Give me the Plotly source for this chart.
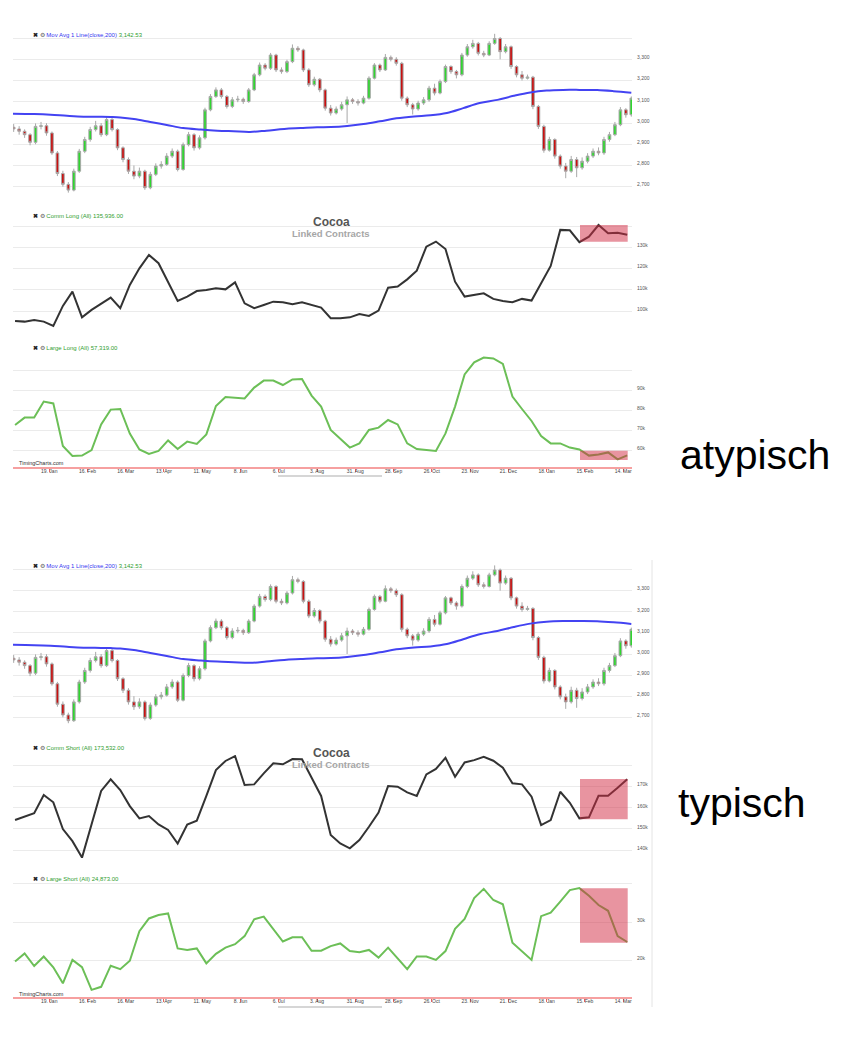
import pandas as pd
from plotly import graph_objects

# the page body keeps an 8px margin, so the figure is drawn 8px in from the corner
PAD = 8
FW, FH = 850 - 2 * PAD, 1056 - 2 * PAD

# weekly commitment-of-traders figures, thousands of contracts
cot_dates = pd.date_range("2014-12-25", periods=65, freq="7D")
comm_long = [95.3, 95.0, 95.8, 95.0, 93.0, 102.4, 109.1, 97.0, 100.5, 103.6,
             106.3, 101.3, 112.3, 120.1, 126.4, 122.5, 113.8, 104.7, 106.8, 109.4,
             109.9, 110.7, 110.2, 113.5, 103.6, 101.3, 102.8, 104.4, 104.1, 103.2,
             104.1, 102.8, 101.6, 96.6, 96.6, 97.0, 98.6, 97.7, 100.2, 111.0,
             111.5, 114.9, 119.0, 130.3, 132.7, 129.2, 113.8, 106.8, 107.6, 108.3,
             105.7, 104.7, 104.1, 105.7, 104.9, 113.0, 121.2, 138.2, 138.0, 132.4,
             135.0, 140.5, 136.6, 136.8, 135.936]
large_long = [72.5, 76.2, 76.2, 84.2, 83.3, 62.0, 57.0, 57.2, 60.0, 72.8,
              80.2, 80.5, 68.2, 60.3, 58.0, 59.5, 64.8, 60.5, 64.2, 63.0,
              67.8, 82.0, 86.5, 86.2, 85.8, 91.2, 94.7, 94.7, 92.5, 95.3,
              95.5, 87.2, 81.7, 70.0, 65.5, 61.2, 63.3, 70.0, 71.2, 75.0,
              72.8, 63.3, 60.5, 60.0, 59.5, 68.3, 81.7, 97.8, 103.8, 106.2,
              105.8, 103.0, 86.7, 80.5, 74.5, 67.0, 63.3, 63.3, 61.2, 60.3,
              57.2, 57.8, 58.8, 55.3, 57.319]
comm_short = [154.2, 155.8, 157.4, 166.1, 162.6, 149.9, 144.2, 136.4, 151.8, 168.0,
              173.5, 168.4, 160.8, 155.0, 156.1, 152.1, 149.5, 143.1, 152.1, 153.9,
              165.6, 177.9, 182.2, 184.5, 170.8, 171.1, 176.3, 181.1, 180.6, 183.1,
              183.0, 173.9, 165.6, 147.1, 143.1, 140.8, 144.7, 151.0, 157.7, 170.3,
              170.0, 167.3, 165.6, 175.8, 178.4, 183.7, 174.7, 181.5, 182.6, 184.2,
              182.3, 179.0, 171.6, 171.1, 165.3, 151.8, 154.2, 167.6, 162.4, 155.0,
              155.5, 165.7, 165.7, 169.5, 173.532]
large_short = [19.8, 21.9, 18.6, 21.1, 18.3, 14.1, 20.2, 18.3, 12.4, 13.2,
               18.7, 17.8, 20.0, 27.7, 31.0, 31.9, 32.3, 23.2, 22.8, 23.2,
               19.3, 21.8, 23.4, 24.3, 26.4, 30.8, 31.5, 28.2, 25.0, 26.1,
               26.1, 22.6, 22.6, 23.8, 24.5, 22.5, 22.2, 22.8, 20.8, 23.4,
               20.6, 17.8, 21.1, 21.1, 20.2, 22.5, 28.3, 30.9, 36.3, 38.7,
               35.8, 34.7, 24.7, 22.5, 20.2, 31.6, 32.5, 35.4, 38.4, 38.9,
               36.9, 34.5, 33.0, 26.4, 24.873]

# cocoa price candles, one every 4 days
price_dates = pd.date_range("2014-12-24", periods=114, freq="4D")
first_open = 2980
price_close = [2972, 2961, 2945, 2909, 2984, 2987, 2953, 2859, 2762, 2711,
               2684, 2773, 2867, 2922, 2969, 2987, 2945, 3016, 2969, 2883,
               2828, 2773, 2750, 2773, 2695, 2758, 2797, 2805, 2844, 2867,
               2781, 2898, 2945, 2883, 2930, 3062, 3125, 3156, 3125, 3078,
               3109, 3112, 3101, 3156, 3227, 3273, 3258, 3320, 3250, 3242,
               3289, 3352, 3344, 3250, 3180, 3206, 3156, 3070, 3047, 3066,
               3086, 3109, 3101, 3094, 3117, 3211, 3273, 3250, 3309, 3300,
               3281, 3117, 3086, 3066, 3094, 3109, 3164, 3141, 3195, 3266,
               3242, 3227, 3320, 3359, 3375, 3328, 3320, 3375, 3398, 3336,
               3359, 3266, 3227, 3211, 3216, 3078, 2984, 2872, 2922, 2844,
               2797, 2773, 2828, 2789, 2820, 2844, 2867, 2859, 2922, 2945,
               2992, 3062, 3039, 3117]
price_high = [2995, 2985, 2970, 2952, 2998, 3005, 2999, 2960, 2868, 2775,
              2722, 2785, 2878, 2935, 2982, 3010, 3000, 3028, 3025, 2975,
              2890, 2838, 2800, 2790, 2780, 2770, 2810, 2820, 2858, 2880,
              2875, 2908, 2958, 2952, 2942, 3072, 3136, 3168, 3165, 3132,
              3122, 3128, 3120, 3165, 3236, 3285, 3282, 3330, 3326, 3262,
              3298, 3370, 3362, 3350, 3258, 3218, 3212, 3162, 3085, 3078,
              3100, 3125, 3118, 3112, 3128, 3220, 3282, 3280, 3325, 3318,
              3310, 3288, 3125, 3095, 3105, 3122, 3175, 3185, 3205, 3275,
              3272, 3250, 3330, 3372, 3392, 3382, 3340, 3385, 3420, 3405,
              3372, 3365, 3272, 3245, 3228, 3222, 3085, 2992, 2935, 2928,
              2852, 2812, 2845, 2840, 2838, 2858, 2880, 2885, 2935, 2958,
              3005, 3075, 3070, 3125]
price_low = [2958, 2945, 2930, 2895, 2900, 2970, 2940, 2850, 2750, 2700,
             2672, 2678, 2765, 2858, 2912, 2960, 2935, 2938, 2960, 2872,
             2815, 2760, 2735, 2740, 2685, 2688, 2750, 2785, 2798, 2835,
             2772, 2775, 2890, 2870, 2875, 2922, 3055, 3118, 3115, 3068,
             3070, 3098, 3090, 3095, 3150, 3220, 3248, 3250, 3240, 3232,
             3235, 3282, 3335, 3240, 3170, 3172, 3145, 3058, 3035, 3040,
             3058, 3000, 3090, 3082, 3088, 3110, 3205, 3240, 3245, 3290,
             3270, 3105, 3075, 3040, 3058, 3085, 3100, 3130, 3135, 3188,
             3232, 3210, 3220, 3312, 3350, 3318, 3310, 3315, 3368, 3300,
             3328, 3255, 3215, 3200, 3205, 3065, 2972, 2860, 2865, 2832,
             2785, 2740, 2765, 2745, 2780, 2810, 2835, 2848, 2850, 2912,
             2938, 2985, 3025, 3030]

# 200 day moving average
ma_dates = ["2014-12-23", "2015-01-08", "2015-01-20", "2015-02-01", "2015-02-13",
            "2015-02-26", "2015-03-05", "2015-03-12", "2015-03-22", "2015-04-03",
            "2015-04-15", "2015-04-27", "2015-05-10", "2015-05-22", "2015-06-03",
            "2015-06-15", "2015-06-27", "2015-07-10", "2015-07-22", "2015-08-03",
            "2015-08-13", "2015-08-25", "2015-09-06", "2015-09-18", "2015-09-30",
            "2015-10-13", "2015-10-25", "2015-11-06", "2015-11-18", "2015-11-30",
            "2015-12-13", "2015-12-25", "2016-01-06", "2016-01-18", "2016-01-30",
            "2016-02-11", "2016-02-24", "2016-03-07", "2016-03-20"]
ma_values = [3044, 3042, 3039, 3034, 3030, 3029, 3028, 3026, 3019, 3005,
             2991, 2976, 2969, 2964, 2961, 2958, 2964, 2972, 2976, 2980,
             2981, 2986, 2995, 3008, 3022, 3031, 3036, 3047, 3070, 3094,
             3109, 3128, 3144, 3153, 3156, 3156, 3155, 3150, 3142.53]

tick_dates = ["2015-01-19", "2015-02-16", "2015-03-16", "2015-04-13", "2015-05-11",
              "2015-06-08", "2015-07-06", "2015-08-03", "2015-08-31", "2015-09-28",
              "2015-10-26", "2015-11-23", "2015-12-21", "2016-01-18", "2016-02-15",
              "2016-03-14"]
tick_labels = ["19. Jan", "16. Feb", "16. Mar", "13. Apr", "11. May", "8. Jun", "6. Jul",
               "3. Aug", "31. Aug", "28. Sep", "26. Oct", "23. Nov", "21. Dec", "18. Jan",
               "15. Feb", "14. Mar"]
price_ticks = [2700, 2800, 2900, 3000, 3100, 3200, 3300, 3400]
price_tick_labels = ["2,700", "2,800", "2,900", "3,000", "3,100", "3,200", "3,300", ""]

GREEN = "#6cbf57"
DARK = "#333333"
FONT = "Liberation Sans, Arial, sans-serif"


def px(p):
    return (p - PAD) / FW


def py(p):
    return 1 - (p - PAD) / FH


def y_axis(top, bottom, v1, p1, v2, p2, vals, labels, anchor):
    # place value v1 at pixel row p1 and v2 at p2, panel spans top..bottom
    scale = (p2 - p1) / (v1 - v2)
    rng = [v2 - (bottom - p2) / scale, v1 + (p1 - top) / scale]
    return dict(domain=[py(bottom), py(top)], range=rng, side="right", anchor=anchor,
                showgrid=True, gridcolor="#ebebeb", gridwidth=1, zeroline=False,
                showline=False, ticks="", tickvals=vals, ticktext=labels,
                tickfont=dict(size=5, color="#555555"), ticklabelshift=-2,
                ticklabelstandoff=4, fixedrange=True)


def x_axis(anchor):
    return dict(domain=[px(13), px(632)], range=["2014-12-23 12:00", "2016-03-20 12:00"],
                type="date", anchor=anchor, showgrid=False, zeroline=False,
                showline=True, linecolor="#f6a0a0", linewidth=1.5,
                ticks="outside", ticklen=3, tickcolor="#e06666", tickwidth=1,
                tickvals=tick_dates, ticktext=tick_labels,
                tickfont=dict(size=5, color="#444444"), ticklabelstandoff=-5,
                rangeslider=dict(visible=False), fixedrange=True)


opens = [first_open] + price_close[:-1]

fig = graph_objects.Figure()
annotations = []
shapes = []


def text(s, x, y, size, color, anchor="center", bold=False):
    annotations.append(dict(x=px(x), y=py(y), xref="paper", yref="paper",
                            xanchor=anchor, yanchor="middle", showarrow=False,
                            text="<b>" + s + "</b>" if bold else s,
                            font=dict(size=size, color=color, family=FONT)))


def box(x0, x1, y0, y1):
    shapes.append(dict(type="rect", xref="paper", yref="paper", x0=px(x0), x1=px(x1),
                       y0=py(y1), y1=py(y0), fillcolor="rgba(209,41,65,0.5)",
                       line=dict(width=0), layer="above"))


groups = [
    dict(off=0, xa="x", ya=["y", "y2", "y3"], comm=comm_long, large=large_long,
         comm_name="Comm Long (All) 135,936.00", large_name="Large Long (All) 57,319.00"),
    dict(off=531, xa="x2", ya=["y4", "y5", "y6"], comm=comm_short, large=large_short,
         comm_name="Comm Short (All) 173,532.00", large_name="Large Short (All) 24,873.00"),
]

for g in groups:
    xa = g["xa"]
    ya = g["ya"]
    fig.add_trace(graph_objects.Candlestick(
        x=price_dates, open=opens, high=price_high, low=price_low, close=price_close,
        xaxis=xa, yaxis=ya[0], whiskerwidth=0, showlegend=False,
        increasing=dict(line=dict(color="#a8a8a8", width=1), fillcolor="#2fd62f"),
        decreasing=dict(line=dict(color="#a8a8a8", width=1), fillcolor="#c81010")))
    fig.add_trace(graph_objects.Scatter(
        x=ma_dates, y=ma_values, mode="lines", xaxis=xa, yaxis=ya[0], showlegend=False,
        line=dict(color="#4343f2", width=2, shape="spline")))
    fig.add_trace(graph_objects.Scatter(
        x=cot_dates, y=g["comm"], mode="lines", xaxis=xa, yaxis=ya[1], showlegend=False,
        line=dict(color=DARK, width=2)))
    fig.add_trace(graph_objects.Scatter(
        x=cot_dates, y=g["large"], mode="lines", xaxis=xa, yaxis=ya[2], showlegend=False,
        line=dict(color=GREEN, width=2)))

fig.update_layout(
    xaxis=x_axis("y3"),
    xaxis2=x_axis("y6"),
    yaxis=y_axis(30, 196, 3300, 59.3, 2700, 186.7, price_ticks, price_tick_labels, "x"),
    yaxis2=y_axis(222, 328, 130, 247.3, 100, 311, [100, 110, 120, 130, 140],
                  ["100k", "110k", "120k", "130k", ""], "x"),
    yaxis3=y_axis(352, 467.3, 90, 390, 60, 450, [60, 70, 80, 90, 100],
                  ["60k", "70k", "80k", "90k", ""], "x"),
    yaxis4=y_axis(561, 727, 3300, 590.7, 2700, 717.3, price_ticks, price_tick_labels, "x2"),
    yaxis5=y_axis(755, 862, 170, 786.7, 140, 850, [140, 150, 160, 170, 180],
                  ["140k", "150k", "160k", "170k", ""], "x2"),
    yaxis6=y_axis(880, 997.3, 30, 922.3, 20, 960.7, [20, 30, 40],
                  ["20k", "30k", ""], "x2"),
)

icons = "<b>✖</b> <span style='color:#666'>⚙</span> "
for g in groups:
    o = g["off"]
    text(icons + "<span style='color:#3535f0'>Mov Avg 1 Line(close,200)</span> "
         "<span style='color:#2f9e2f'>3,142.53</span>", 31, 34.5 + o, 6, "#222222", "left")
    text(icons + "<span style='color:#2f9e2f'>" + g["comm_name"] + "</span>",
         31, 215.7 + o + (1 if o else 0), 6, "#222222", "left")
    text(icons + "<span style='color:#2f9e2f'>" + g["large_name"] + "</span>",
         31, 348.3 + o, 6, "#222222", "left")
    text("Cocoa", 331, 222 + o, 12, "#555555", bold=True)
    text("Linked Contracts", 331, 233.5 + o, 9.5, "#a6a6a6", bold=True)
    text("TimingCharts.com", 17, 462.7 + o, 5.5, "#333333", "left")
    shapes.append(dict(type="line", xref="paper", yref="paper", x0=px(278), x1=px(382),
                       y0=py(476 + o), y1=py(476 + o), line=dict(color="#d6d6d6", width=2)))

text("atypisch", 755, 455, 41, "#000000")
text("typisch", 742, 803, 41, "#000000")

# highlighted last weeks
box(580, 627.7, 225, 241.7)
box(580, 627.7, 450.7, 460)
box(580, 627.7, 779, 819.3)
box(580, 627.7, 888.3, 942.7)

# frame of the lower screenshot
shapes.append(dict(type="line", xref="paper", yref="paper", x0=px(652), x1=px(652),
                   y0=py(1007), y1=py(560), line=dict(color="#e4e4e4", width=1)))

fig.update_layout(
    width=FW, height=FH, autosize=False,
    margin=dict(l=0, r=0, t=0, b=0),
    paper_bgcolor="white", plot_bgcolor="white",
    font=dict(family=FONT),
    showlegend=False,
    annotations=annotations,
    shapes=shapes,
    hovermode=False,
)

fig.write_html("out.html")
